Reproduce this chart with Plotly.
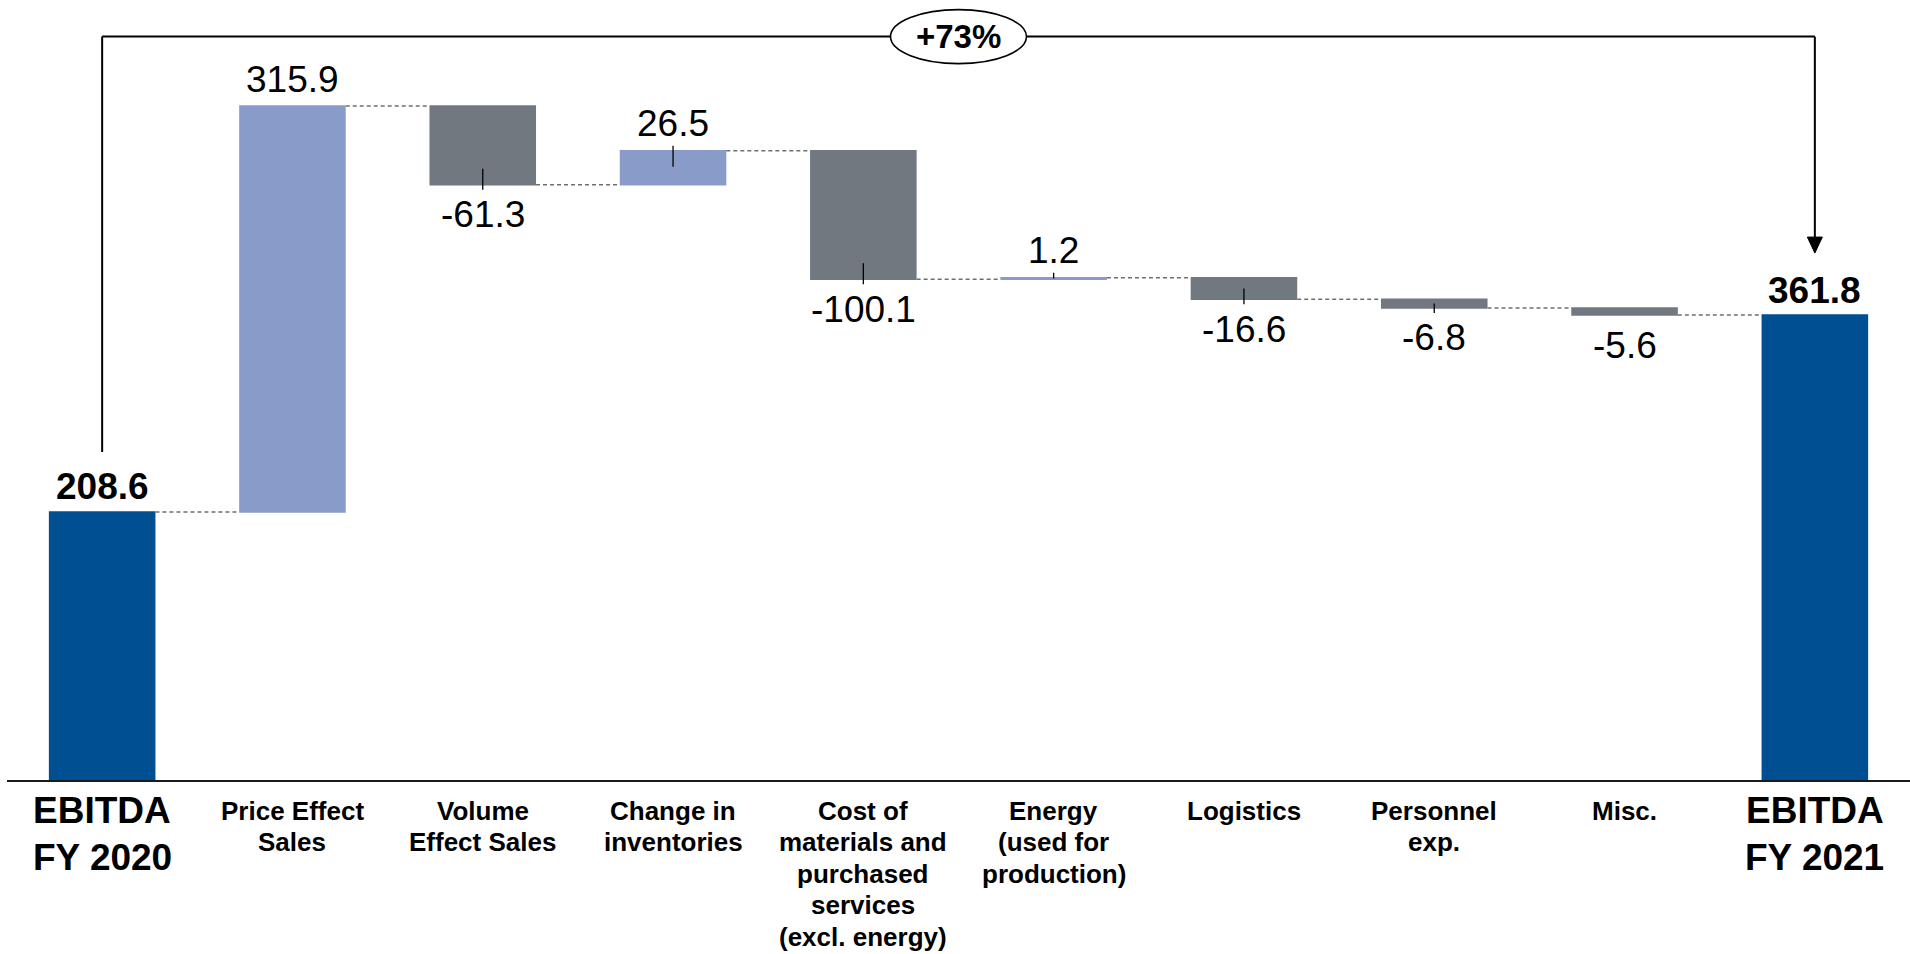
import plotly.graph_objects as go

# ---- data -------------------------------------------------------------
categories = [
    "EBITDA<br>FY 2020",
    "Price Effect<br>Sales",
    "Volume<br>Effect Sales",
    "Change in<br>inventories",
    "Cost of<br>materials and<br>purchased<br>services<br>(excl. energy)",
    "Energy<br>(used for<br>production)",
    "Logistics",
    "Personnel<br>exp.",
    "Misc.",
    "EBITDA<br>FY 2021",
]
values = [208.6, 315.9, -61.3, 26.5, -100.1, 1.2, -16.6, -6.8, -5.6, 361.8]
measures = ["absolute"] + ["relative"] * 8 + ["absolute"]
# which bridge steps get a short leader tick towards their label
leader_flags = [False, False, True, True, True, True, True, True, False, False]

# ---- style / geometry -------------------------------------------------
W, H = 1910, 954
ML, MR, MT, MB = 7, 0, 0, 174
Y_MAX = 607
PPU = (H - MT - MB) / Y_MAX          # pixels per data unit
FONT = "Liberation Sans, Arial, sans-serif"
C_TOTAL = "#004F93"
C_UP = "#899BC8"
C_DOWN = "#717880"
BAR_W = 0.56

n = len(values)
xs = list(range(n))

# running totals: start / end of each bar
starts, ends = [], []
run = 0.0
for v, m in zip(values, measures):
    if m == "absolute":
        starts.append(0.0)
        run = v
    else:
        starts.append(run)
        run += v
    ends.append(run)

fig = go.Figure()
fig.add_trace(go.Waterfall(
    x=xs,
    y=values,
    measure=measures,
    width=[BAR_W] * n,
    increasing=dict(marker=dict(color=C_UP, line=dict(width=0))),
    decreasing=dict(marker=dict(color=C_DOWN, line=dict(width=0))),
    totals=dict(marker=dict(color=C_TOTAL, line=dict(width=0))),
    connector=dict(mode="between",
                   line=dict(color="#6f6f6f", width=1.5, dash="4px,3px")),
    hoverinfo="skip",
    showlegend=False,
))

shapes = []
annotations = []

# value labels and leader ticks
for i, (v, m) in enumerate(zip(values, measures)):
    total = m == "absolute"
    up = v >= 0
    edge = ends[i]
    if total:
        shift = 25
    else:
        shift = 27 if up else -30
    txt = f"{v:.1f}"
    if total:
        txt = f"<b>{txt}</b>"
    annotations.append(dict(
        x=i, y=edge, xref="x", yref="y", text=txt, showarrow=False,
        yanchor="middle", yshift=shift,
        font=dict(family=FONT, size=37, color="#000000"),
    ))
    if leader_flags[i]:
        sgn = 1 if up else -1
        inside = min(16, 0.5 * abs(v) * PPU) / PPU
        outside = 5 / PPU
        shapes.append(dict(
            type="line", xref="x", yref="y",
            x0=i, x1=i, y0=edge + sgn * outside, y1=edge - sgn * inside,
            line=dict(color="#000000", width=1.3), layer="above",
        ))

# category labels under the axis (one annotation per line for tight leading)
for i, c in enumerate(categories):
    big = measures[i] == "absolute"
    size = 37 if big else 26
    first = -30 if big else -30.5
    step = 47.5 if big else 31.5
    for k, line in enumerate(c.split("<br>")):
        annotations.append(dict(
            x=i, y=0, xref="x", yref="y", text=f"<b>{line}</b>",
            showarrow=False, yanchor="middle", yshift=first - k * step,
            font=dict(family=FONT, size=size, color="#000000"),
        ))

# growth bracket from first to last EBITDA bar
BRACKET_Y = 578.5
x_first, x_last = 0, n - 1
y_left_bottom = values[0] + 60 / PPU
arrow_tip = values[-1] + 62 / PPU
arrow_h = 16 / PPU
arrow_hw = 7.5 / ((W - ML - MR) / n)
line_style = dict(color="#000000", width=2)
shapes += [
    dict(type="line", xref="x", yref="y", x0=x_first, x1=x_first,
         y0=y_left_bottom, y1=BRACKET_Y, line=line_style, layer="above"),
    dict(type="line", xref="x", yref="y", x0=x_first, x1=x_last,
         y0=BRACKET_Y, y1=BRACKET_Y, line=line_style, layer="above"),
    dict(type="line", xref="x", yref="y", x0=x_last, x1=x_last,
         y0=BRACKET_Y, y1=arrow_tip + arrow_h, line=line_style, layer="above"),
    dict(type="path", xref="x", yref="y",
         path=(f"M {x_last - arrow_hw} {arrow_tip + arrow_h} "
               f"L {x_last + arrow_hw} {arrow_tip + arrow_h} "
               f"L {x_last} {arrow_tip} Z"),
         fillcolor="#000000", line=dict(color="#000000", width=1), layer="above"),
]

# growth badge
growth = (values[-1] / values[0] - 1) * 100
xc = (x_first + x_last) / 2
ell_hw = 68 / ((W - ML - MR) / n)
ell_hh = 27 / PPU
shapes.append(dict(
    type="circle", xref="x", yref="y",
    x0=xc - ell_hw, x1=xc + ell_hw,
    y0=BRACKET_Y - ell_hh, y1=BRACKET_Y + ell_hh,
    fillcolor="#ffffff", line=dict(color="#000000", width=1.6), layer="above",
))
annotations.append(dict(
    x=xc, y=BRACKET_Y, xref="x", yref="y", text=f"<b>+{growth:.0f}%</b>",
    showarrow=False, yanchor="middle",
    font=dict(family=FONT, size=33, color="#000000"),
))

fig.update_layout(
    width=W, height=H,
    margin=dict(l=ML, r=MR, t=MT, b=MB, pad=0),
    paper_bgcolor="#ffffff", plot_bgcolor="#ffffff",
    shapes=shapes, annotations=annotations,
    xaxis=dict(range=[-0.5, n - 0.5], showticklabels=False, showgrid=False,
               zeroline=False, showline=True, linecolor="#1a1a1a", linewidth=2,
               ticks="", fixedrange=True),
    yaxis=dict(range=[0, Y_MAX], visible=False, fixedrange=True),
    font=dict(family=FONT),
)

fig.write_html("out.html", config={"displayModeBar": False})
